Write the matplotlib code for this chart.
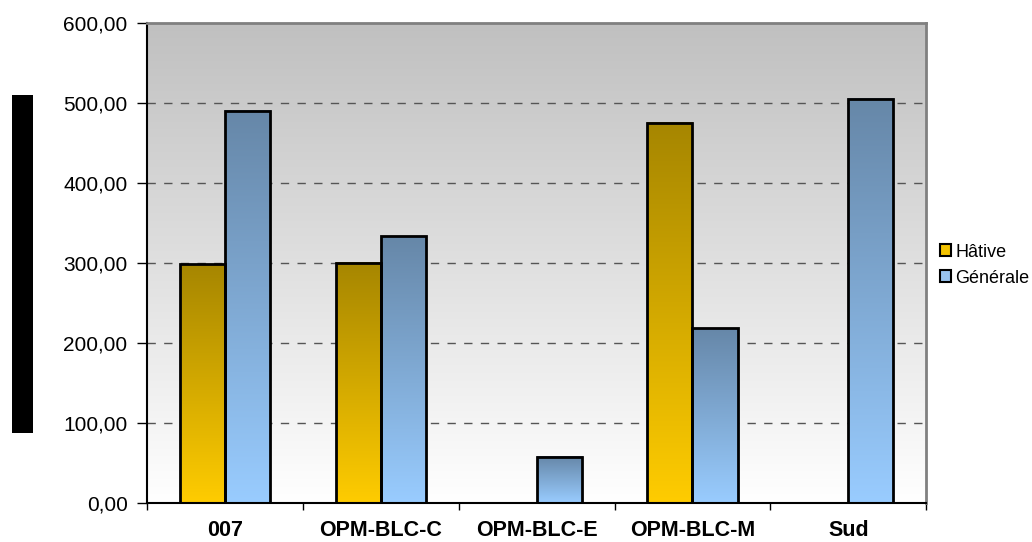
import matplotlib.pyplot as plt
import matplotlib.colors as mcolors
import numpy as np

plt.rcParams['font.family'] = ['Liberation Sans', 'DejaVu Sans']

categories = ['007', 'OPM-BLC-C', 'OPM-BLC-E', 'OPM-BLC-M', 'Sud']
hative = [298, 300, np.nan, 475, np.nan]
generale = [490, 333, 58, 218, 505]
series_names = ['Hâtive', 'Générale']
yticks = [0, 100, 200, 300, 400, 500, 600]

# top colour -> bottom colour of each bar gradient
gold = ('#a68600', '#ffcc00')
blue = ('#6687a8', '#99ccff')


def gradient_bar(ax, x, width, height, colors):
    if np.isnan(height) or height <= 0:
        return
    cmap = mcolors.LinearSegmentedColormap.from_list('g', [colors[1], colors[0]])
    grad = np.linspace(0, 1, 256).reshape(-1, 1)
    ax.imshow(grad, extent=(x, x + width, 0, height), origin='lower',
              cmap=cmap, aspect='auto', zorder=2, interpolation='bicubic')
    ax.bar(x, height, width, align='edge', facecolor='none',
           edgecolor='black', linewidth=2, zorder=3)


fig = plt.figure(figsize=(10.32, 5.42), dpi=100)
ax = fig.add_axes([0.1425, 0.072, 0.755, 0.886])

n = len(categories)
# background: grey at the top fading to white
bg = mcolors.LinearSegmentedColormap.from_list('bg', ['#ffffff', '#c0c0c0'])
ax.imshow(np.linspace(0, 1, 256).reshape(-1, 1), extent=(0, n, 0, 600),
          origin='lower', cmap=bg, aspect='auto', zorder=0)

w = 0.29
for i in range(n):
    c = i + 0.5
    gradient_bar(ax, c - w, w, hative[i], gold)
    gradient_bar(ax, c, w, generale[i], blue)

for y in yticks[1:-1]:
    ax.axhline(y, color='#555555', linestyle=(0, (6, 6)), linewidth=1, zorder=1)

ax.set_xlim(0, n)
ax.set_ylim(0, 600)
ax.set_xticks(np.arange(n + 1))
ax.set_xticklabels([])
ax.set_xticks(np.arange(n) + 0.5, minor=True)
ax.set_xticklabels(categories, minor=True, fontsize=15.5, fontweight='bold')
ax.tick_params(axis='x', which='minor', length=0, pad=12)
ax.tick_params(axis='x', which='major', length=5, width=1, direction='out')
ax.set_yticks(yticks)
ax.set_yticklabels(['%d,00' % v for v in yticks], fontsize=15)
ax.tick_params(axis='y', length=7, width=1, pad=7)

for side in ['left', 'bottom']:
    ax.spines[side].set_color('black')
    ax.spines[side].set_linewidth(1.5)
for side in ['top', 'right']:
    ax.spines[side].set_color('#808080')
    ax.spines[side].set_linewidth(2)

# legend
handles = [plt.Rectangle((0, 0), 1, 1, facecolor='#f2c200', edgecolor='black', linewidth=1.5),
           plt.Rectangle((0, 0), 1, 1, facecolor='#99c4f0', edgecolor='black', linewidth=1.5)]
fig.legend(handles, series_names, loc='center left', bbox_to_anchor=(0.911, 0.511),
           frameon=False, fontsize=13, handlelength=0.6, handleheight=0.6,
           handletextpad=0.25, labelspacing=0.5, borderpad=0, borderaxespad=0)

# black block left of the y axis
fig.patches.append(plt.Rectangle((12 / 1032, 1 - 433 / 542), 21 / 1032, 338 / 542,
                                 transform=fig.transFigure, facecolor='black',
                                 edgecolor='none'))

fig.savefig('out.png', dpi=100)
